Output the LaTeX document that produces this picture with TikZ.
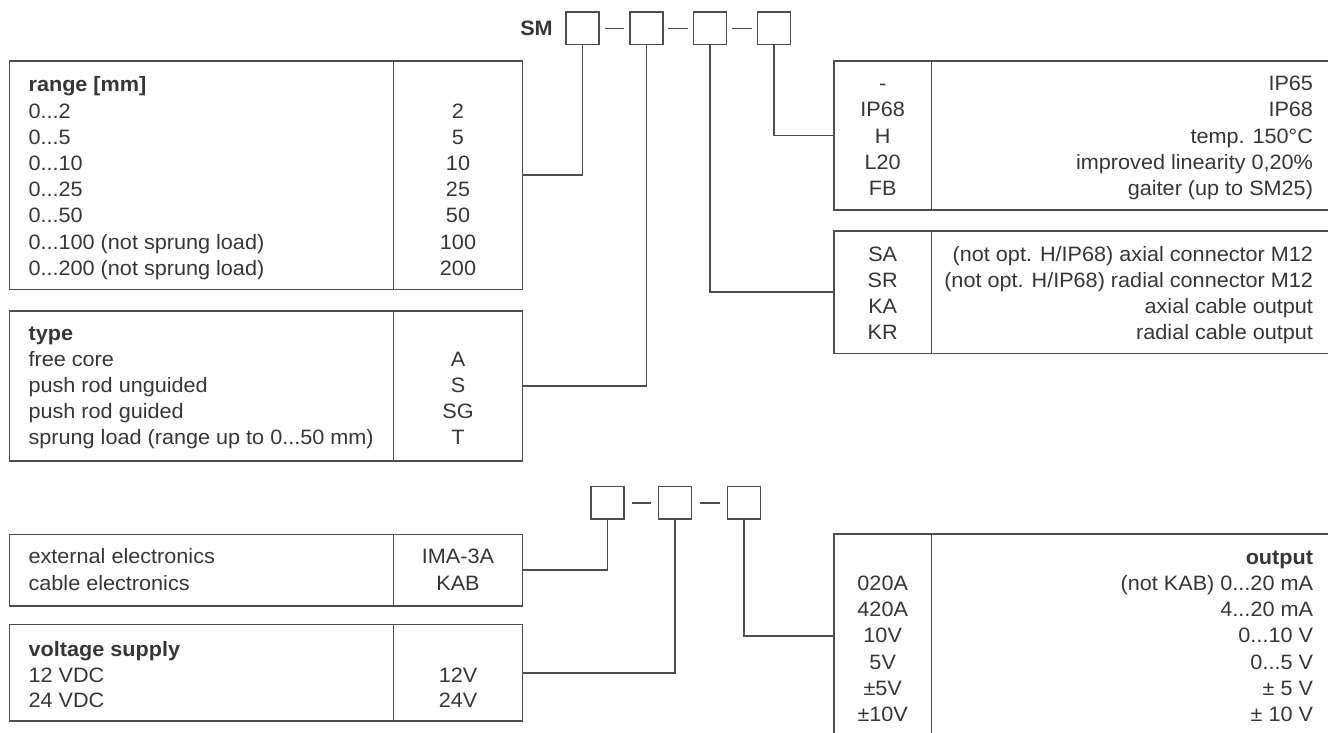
\documentclass[tikz,border=0pt]{standalone}
\usepackage{fontspec}
\setmainfont{Liberation Sans}[FakeStretch=1.04]
\definecolor{ln}{HTML}{4D4D4D}
\definecolor{tx}{HTML}{363636}
\newcommand\dd{.\kern0pt.\kern0pt.}
\begin{document}
\begin{tikzpicture}[x=1pt,y=-1pt,
  font=\fontsize{20.8}{26}\selectfont,
  every node/.style={text=tx, inner sep=0pt, outer sep=0pt},
  cell/.style={draw=ln, line width=1.6pt, anchor=north west},
  sq/.style={draw=ln, line width=1.6pt, minimum width=33pt, minimum height=32.5pt},
  conn/.style={draw=ln, line width=1.6pt},
  dashline/.style={draw=ln, line width=1.6pt},
  ttl/.style={font=\fontsize{20.8}{26}\selectfont\bfseries}]
\useasboundingbox (0,0) rectangle (1328,732);
\clip (0,0) rectangle (1328,732);
\fill[white] (0,0) rectangle (1328,732);

% --- code boxes top ---
\node[font=\fontsize{20.8}{26}\selectfont\bfseries] (sm) at (536.5,28.3) {SM};
\node[sq] (b1) at (582.5,28.3) {};
\node[sq] (b2) at (646.3,28.3) {};
\node[sq] (b3) at (710,28.3) {};
\node[sq] (b4) at (773.8,28.3) {};
\draw[dashline, shorten <=5.5pt, shorten >=5.5pt] (b1.east) -- (b2.west);
\draw[dashline, shorten <=5.5pt, shorten >=5.5pt] (b2.east) -- (b3.west);
\draw[dashline, shorten <=5.5pt, shorten >=5.5pt] (b3.east) -- (b4.west);

% --- code boxes bottom ---
\node[sq] (c1) at (607.5,502.7) {};
\node[sq] (c2) at (675,502.7) {};
\node[sq] (c3) at (744,502.7) {};
\draw[dashline, shorten <=8pt, shorten >=8pt] (c1.east) -- (c2.west);
\draw[dashline, shorten <=8pt, shorten >=8pt] (c2.east) -- (c3.west);

% --- left tables ---
\node[cell, minimum width=384pt, minimum height=228.3pt] (rangeL) at (9.3,61) {};
\node[cell, minimum width=129.2pt, minimum height=228.3pt] (rangeR) at (393.3,61) {};
\node[cell, minimum width=384pt, minimum height=150pt] (typeL) at (9.3,310.7) {};
\node[cell, minimum width=129.2pt, minimum height=150pt] (typeR) at (393.3,310.7) {};
\node[cell, minimum width=384pt, minimum height=71.5pt] (elecL) at (9.3,534.5) {};
\node[cell, minimum width=129.2pt, minimum height=71.5pt] (elecR) at (393.3,534.5) {};
\node[cell, minimum width=384pt, minimum height=96.5pt] (voltL) at (9.3,624.5) {};
\node[cell, minimum width=129.2pt, minimum height=96.5pt] (voltR) at (393.3,624.5) {};

% --- right tables ---
\node[cell, minimum width=97.5pt, minimum height=149pt] (ipL) at (834,61) {};
\node[cell, minimum width=410pt, minimum height=149pt] (ipR) at (931.5,61) {};
\node[cell, minimum width=97.5pt, minimum height=122.5pt] (conL) at (834,231) {};
\node[cell, minimum width=410pt, minimum height=122.5pt] (conR) at (931.5,231) {};
\node[cell, minimum width=97.5pt, minimum height=204pt] (outL) at (834,534) {};
\node[cell, minimum width=410pt, minimum height=204pt] (outR) at (931.5,534) {};

% --- connectors ---
\draw[conn] (rangeR.east) -| (b1.south);
\draw[conn] (typeR.east) -| (b2.south);
\draw[conn] (b3.south) |- (conL.west);
\draw[conn] (b4.south) |- (ipL.west);
\draw[conn] (elecR.east) -| (c1.south);
\draw[conn] (voltR.east) -| (c2.south);
\draw[conn] (c3.south) |- (outL.west);

% --- range texts ---
\node[ttl, anchor=base west] (rgT) at (28.6,91.9) {range [mm]};
\foreach \a/\b [count=\i] in {{0\dd2}/2, {0\dd5}/5, {0\dd10}/10, {0\dd25}/25, {0\dd50}/50, {0\dd100 (not sprung load)}/100, {0\dd200 (not sprung load)}/200}{
  \node[anchor=base west] (rgA\i) at (28.6,{91.9+26.2*\i}) {\a};
  \node[anchor=base] (rgB\i) at (458,{91.9+26.2*\i}) {\b};
}
% --- type texts ---
\node[ttl, anchor=base west] (tyT) at (28.6,340.8) {type};
\foreach \a/\b [count=\i] in {{free core}/A, {push rod unguided}/S, {push rod guided}/SG, {sprung load (range up to 0\dd50 mm)}/T}{
  \node[anchor=base west] (tyA\i) at (28.6,{340.8+25.8*\i}) {\a};
  \node[anchor=base] (tyB\i) at (458,{340.8+25.8*\i}) {\b};
}
% --- electronics ---
\node[anchor=base west] (elA1) at (28.6,563.8) {external electronics};
\node[anchor=base] (elB1) at (458,563.8) {IMA-3A};
\node[anchor=base west] (elA2) at (28.6,590.3) {cable electronics};
\node[anchor=base] (elB2) at (458,590.3) {KAB};
% --- voltage ---
\node[ttl, anchor=base west] (voT) at (28.6,656.9) {voltage supply};
\node[anchor=base west] (voA1) at (28.6,682.3) {12 VDC};
\node[anchor=base] (voB1) at (458,682.3) {12V};
\node[anchor=base west] (voA2) at (28.6,707.8) {24 VDC};
\node[anchor=base] (voB2) at (458,707.8) {24V};

% --- IP table ---
\foreach \a/\b [count=\i] in {{-}/{IP65}, {IP68}/{IP68}, {H}/{temp. 150°C}, {L20}/{improved linearity 0,20\%}, {FB}/{gaiter (up to SM25)}}{
  \node[anchor=base] (ipA\i) at (882.7,{64.5+26.2*\i}) {\a};
  \node[anchor=base east] (ipB\i) at (1313,{64.5+26.2*\i}) {\b};
}
% --- connector table ---
\foreach \a/\b [count=\i] in {{SA}/{(not opt. H/IP68) axial connector M12}, {SR}/{(not opt. H/IP68) radial connector M12}, {KA}/{axial cable output}, {KR}/{radial cable output}}{
  \node[anchor=base] (coA\i) at (882.7,{235.3+26*\i}) {\a};
  \node[anchor=base east] (coB\i) at (1313,{235.3+26*\i}) {\b};
}
% --- output table ---
\node[ttl, anchor=base east] (ouT) at (1313,564.3) {output};
\foreach \a/\b [count=\i] in {{020A}/{(not KAB) 0\dd20 mA}, {420A}/{4\dd20 mA}, {10V}/{0\dd10 V}, {5V}/{0\dd5 V}, {±5V}/{± 5 V}, {±10V}/{± 10 V}}{
  \node[anchor=base] (ouA\i) at (882.7,{564.3+26.2*\i}) {\a};
  \node[anchor=base east] (ouB\i) at (1313,{564.3+26.2*\i}) {\b};
}
\end{tikzpicture}
\end{document}
